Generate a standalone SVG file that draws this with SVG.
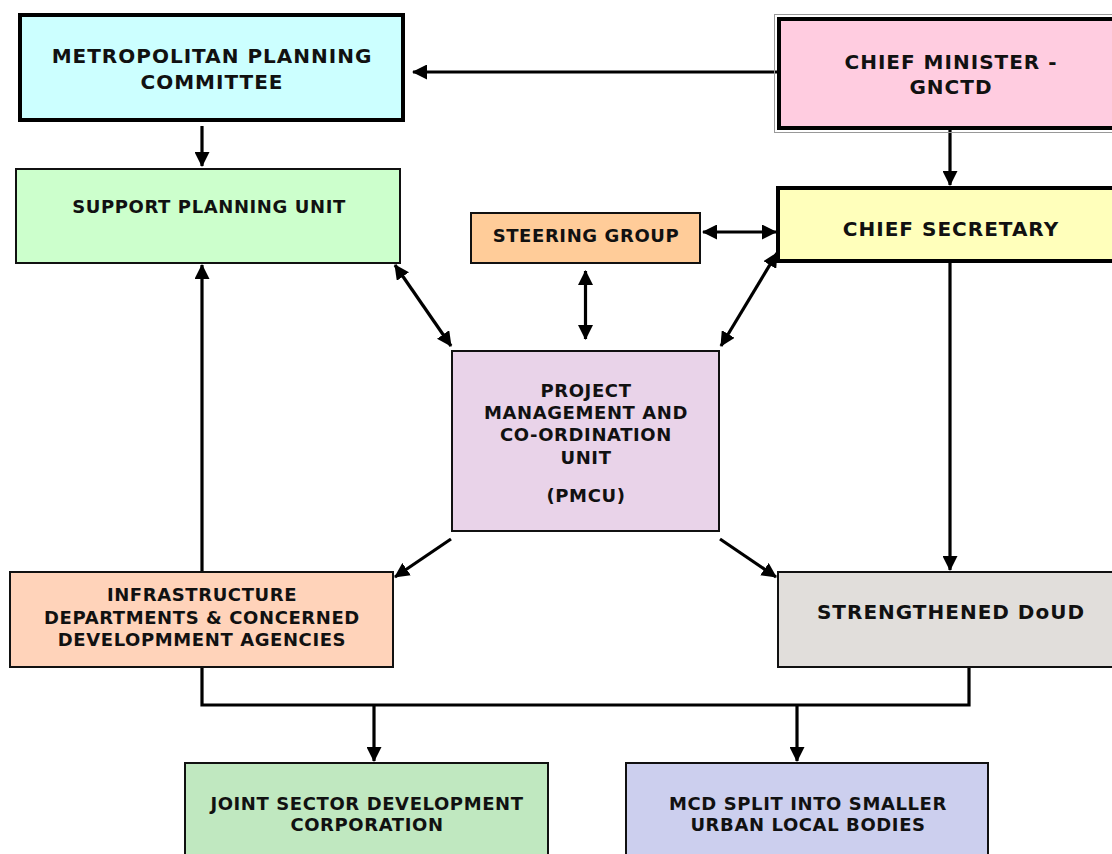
<svg xmlns="http://www.w3.org/2000/svg" width="1112" height="854" viewBox="0 0 1112 854">
<defs>
<style>
.box{stroke:#111;stroke-width:2}
.thick{stroke:#000;stroke-width:4}
.t{font-family:"DejaVu Sans",Verdana,sans-serif;font-weight:bold;fill:#111;text-anchor:middle}
.s{font-size:18px;letter-spacing:0.6px}
.l{font-size:20px;letter-spacing:1px}
.c{stroke:#000;stroke-width:3.2;fill:none}
.a{marker-end:url(#ah)}
.d{marker-start:url(#ah);marker-end:url(#ah)}
</style>
<marker id="ah" markerUnits="userSpaceOnUse" markerWidth="15" markerHeight="15" refX="14" refY="7.5" orient="auto-start-reverse" viewBox="0 0 15 15">
<path d="M0,0 L15,7.5 L0,15 Z" fill="#000"/>
</marker>
</defs>
<rect width="1112" height="854" fill="#fff"/>

<g id="connectors">
<line class="c a" x1="777" y1="72" x2="413" y2="72"/>
<line class="c a" x1="202" y1="126" x2="202" y2="166"/>
<line class="c a" x1="950" y1="130" x2="950" y2="185"/>
<line class="c d" x1="703" y1="232" x2="776" y2="232"/>
<line class="c d" x1="585.5" y1="271" x2="585.5" y2="339"/>
<line class="c d" x1="395" y1="265" x2="451" y2="346"/>
<line class="c d" x1="777" y1="253" x2="721" y2="346"/>
<line class="c a" x1="451" y1="539" x2="395" y2="577"/>
<line class="c a" x1="720" y1="539" x2="776" y2="577"/>
<line class="c a" x1="202" y1="571" x2="202" y2="265"/>
<line class="c a" x1="950" y1="263" x2="950" y2="570"/>
<path class="c" d="M202,667 V705 H969 V667"/>
<line class="c a" x1="374" y1="705" x2="374" y2="761"/>
<line class="c a" x1="797" y1="705" x2="797" y2="761"/>
</g>

<g id="mpc">
<rect class="thick" x="20" y="15" width="383" height="105" fill="#CCFFFF"/>
<text class="t l" x="212" y="63">METROPOLITAN PLANNING</text>
<text class="t l" x="212" y="89">COMMITTEE</text>
</g>

<g id="cm">
<rect x="774.5" y="14.5" width="400" height="118" fill="none" stroke="#999" stroke-width="1"/>
<rect class="thick" x="779" y="19" width="400" height="109" fill="#FFCCE0"/>
<text class="t l" x="951" y="69">CHIEF MINISTER -</text>
<text class="t l" x="951" y="94">GNCTD</text>
</g>

<g id="spu">
<rect class="box" x="16" y="169" width="384" height="94" fill="#CCFFCC"/>
<text class="t s" x="209" y="213">SUPPORT PLANNING UNIT</text>
</g>

<g id="sg">
<rect class="box" x="471" y="213" width="229" height="50" fill="#FFCC99"/>
<text class="t s" x="586" y="242">STEERING GROUP</text>
</g>

<g id="cs">
<rect class="thick" x="778" y="188" width="400" height="73" fill="#FFFFBB"/>
<text class="t l" x="951" y="236">CHIEF SECRETARY</text>
</g>

<g id="pmcu">
<rect class="box" x="452" y="351" width="267" height="180" fill="#E9D3E9"/>
<text class="t s" x="586" y="397">PROJECT</text>
<text class="t s" x="586" y="419">MANAGEMENT AND</text>
<text class="t s" x="586" y="441">CO-ORDINATION</text>
<text class="t s" x="586" y="464">UNIT</text>
<text class="t s" x="586" y="502">(PMCU)</text>
</g>

<g id="infra">
<rect class="box" x="10" y="572" width="383" height="95" fill="#FFD3BA"/>
<text class="t s" x="202" y="601">INFRASTRUCTURE</text>
<text class="t s" x="202" y="624">DEPARTMENTS &amp; CONCERNED</text>
<text class="t s" x="202" y="646">DEVELOPMMENT AGENCIES</text>
</g>

<g id="doud">
<rect class="box" x="778" y="572" width="400" height="95" fill="#E1DEDB"/>
<text class="t l" x="951" y="619">STRENGTHENED DoUD</text>
</g>

<g id="jsdc">
<rect class="box" x="185" y="763" width="363" height="120" fill="#C0E8C0"/>
<text class="t s" x="367" y="810">JOINT SECTOR DEVELOPMENT</text>
<text class="t s" x="367" y="831">CORPORATION</text>
</g>

<g id="mcd">
<rect class="box" x="626" y="763" width="362" height="120" fill="#CCCFEE"/>
<text class="t s" x="808" y="810">MCD SPLIT INTO SMALLER</text>
<text class="t s" x="808" y="831">URBAN LOCAL BODIES</text>
</g>
</svg>
